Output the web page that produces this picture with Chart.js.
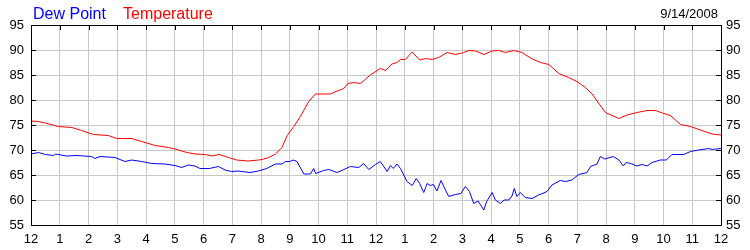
<!DOCTYPE html>
<html>
<head>
<meta charset="utf-8">
<script src="https://cdn.jsdelivr.net/npm/chart.js@4/dist/chart.umd.min.js"></script>
<style>
  html, body { margin: 0; padding: 0; background: #fff; }
</style>
</head>
<body>
<canvas id="weatherChart" width="750" height="250"></canvas>
<script>
// Подписи часов по оси X (0..24)
const hourLabels = ['12', '1', '2', '3', '4', '5', '6', '7', '8', '9', '10', '11',
  '12', '1', '2', '3', '4', '5', '6', '7', '8', '9', '10', '11', '12'];

// Температура: часы и значения
const tempHours = [0, 0.26, 0.5, 0.95, 1.42, 1.76, 2.17, 2.69, 2.98, 3.5, 3.85, 4.32, 4.78, 5.01,
  5.42, 5.71, 6.06, 6.29, 6.54, 6.87, 7.15, 7.56, 7.91, 8.04, 8.27, 8.5, 8.73, 8.91, 9.14, 9.37,
  9.66, 9.89, 10.41, 10.65, 10.88, 11.02, 11.22, 11.46, 11.8, 12.15, 12.33, 12.56, 12.73, 12.85,
  13.02, 13.26, 13.52, 13.72, 13.95, 14.18, 14.47, 14.76, 15.05, 15.22, 15.46, 15.75, 16.04,
  16.27, 16.5, 16.79, 17.08, 17.43, 17.72, 18.01, 18.36, 18.7, 18.99, 19.28, 19.52, 19.69,
  19.98, 20.21, 20.45, 20.73, 21.08, 21.43, 21.72, 22.01, 22.24, 22.59, 22.94, 23.28, 23.69, 24];
const tempValues = [75.8, 75.7, 75.4, 74.7, 74.5, 73.9, 73.1, 72.9, 72.3, 72.3, 71.7, 70.9, 70.5, 70.2,
  69.5, 69.2, 69.1, 68.8, 69.1, 68.5, 68.0, 67.8, 68.0, 68.1, 68.5, 69.2, 70.5, 72.9, 74.7, 76.7,
  79.7, 81.2, 81.2, 81.8, 82.3, 83.3, 83.5, 83.3, 85.0, 86.3, 85.9, 87.2, 87.5, 88.1,
  88.1, 89.6, 88.0, 88.3, 88.1, 88.5, 89.5, 89.1, 89.5, 89.9, 89.8, 89.1, 89.8,
  89.9, 89.5, 89.9, 89.5, 88.2, 87.5, 87.1, 85.3, 84.5, 83.7, 82.5, 81.2, 79.8,
  77.5, 76.9, 76.3, 77.0, 77.5, 77.9, 77.9, 77.3, 76.9, 75.1, 74.7, 74.0, 73.2, 73.0];

// Точка росы: часы и значения
const dewHours = [0, 0.26, 0.5, 0.78, 0.85, 1.24, 1.6, 2.11, 2.22, 2.4, 2.92, 3.27, 3.5, 3.85, 4.2,
  4.66, 5.01, 5.24, 5.47, 5.7, 5.88, 6.2, 6.52, 6.75, 6.98, 7.2, 7.62, 7.91, 8.2, 8.5, 8.73, 8.85,
  9.0, 9.12, 9.25, 9.49, 9.72, 9.83, 9.9, 10.18, 10.36, 10.65, 10.88, 11.11, 11.4, 11.57, 11.75,
  11.98, 12.15, 12.39, 12.5, 12.6, 12.73, 12.85, 13.08, 13.26, 13.4, 13.52, 13.66, 13.78, 13.89,
  14.0, 14.12, 14.26, 14.4, 14.53, 14.76, 14.95, 15.11, 15.25, 15.4, 15.55, 15.75, 15.85, 16.04,
  16.15, 16.33, 16.45, 16.62, 16.73, 16.81, 16.9, 17.02, 17.19, 17.43, 17.66, 17.95, 18.12,
  18.41, 18.6, 18.81, 19.05, 19.34, 19.46, 19.69, 19.8, 19.95, 20.25, 20.45, 20.6, 20.7, 20.86,
  21.08, 21.25, 21.43, 21.6, 21.89, 22.1, 22.29, 22.7, 22.94, 23.22, 23.57, 23.7, 24];
const dewValues = [69.2, 69.5, 69.1, 68.9, 69.2, 68.8, 68.9, 68.7, 68.3, 68.7, 68.5, 67.7, 68.0, 67.7, 67.3,
  67.2, 66.9, 66.5, 67.0, 66.8, 66.3, 66.3, 66.7, 66.0, 65.7, 65.8, 65.5, 65.8, 66.3, 67.2, 67.2, 67.7,
  67.7, 68.0, 67.7, 65.2, 65.2, 66.3, 65.3, 65.9, 66.1, 65.5, 66.1, 66.7, 66.5, 67.3, 66.1,
  67.1, 67.7, 65.7, 66.9, 66.3, 67.2, 66.3, 63.7, 62.9, 64.3, 63.3, 61.5, 63.3, 62.9,
  63.1, 61.8, 63.9, 62.2, 60.7, 61.1, 61.3, 62.7, 61.7, 59.3, 59.8, 58.0, 59.7, 61.5,
  60.0, 59.3, 60.0, 60.0, 60.8, 62.3, 60.7, 61.5, 60.5, 60.3, 61.0, 61.7, 63.0,
  63.9, 63.7, 64.0, 65.1, 65.5, 66.7, 67.2, 68.7, 68.2, 68.7, 68.0, 66.8, 67.5, 67.3,
  66.8, 67.1, 66.8, 67.5, 68.0, 68.0, 69.1, 69.1, 69.7, 70.0, 70.3, 70.1, 70.3];

const dateText = '9/14/2008';

const toPoints = (xs, ys) => xs.map((x, i) => ({ x: x, y: ys[i] }));

// Рамка, внутренние засечки и заголовок
const framePlugin = {
  id: 'frame',
  afterDraw(chart) {
    const { ctx, chartArea: a, scales } = chart;
    ctx.save();
    ctx.strokeStyle = '#000';
    ctx.lineWidth = 1;
    ctx.beginPath();
    scales.y.ticks.forEach(t => {
      const y = Math.round(scales.y.getPixelForValue(t.value)) + 0.5;
      ctx.moveTo(a.left, y); ctx.lineTo(a.left + 5, y);
      ctx.moveTo(a.right, y); ctx.lineTo(a.right - 5, y);
    });
    scales.x.ticks.forEach(t => {
      const x = Math.round(scales.x.getPixelForValue(t.value)) + 0.5;
      ctx.moveTo(x, a.top); ctx.lineTo(x, a.top + 5);
    });
    ctx.stroke();
    ctx.strokeRect(Math.round(a.left) + 0.5, Math.round(a.top) + 0.5,
      Math.round(a.right - a.left), Math.round(a.bottom - a.top));

    ctx.textBaseline = 'alphabetic';
    ctx.font = '16px "Liberation Sans", Arial, sans-serif';
    ctx.textAlign = 'left';
    ctx.fillStyle = '#0000ff';
    ctx.fillText('Dew Point', 33, 19);
    ctx.fillStyle = '#ff0000';
    ctx.fillText('Temperature', 123, 19);
    ctx.font = '13px "Liberation Sans", Arial, sans-serif';
    ctx.fillStyle = '#000';
    ctx.textAlign = 'right';
    ctx.fillText(dateText, 718, 18);
    ctx.restore();
  }
};

const tickFont = { family: '"Liberation Sans", Arial, sans-serif', size: 13 };

new Chart(document.getElementById('weatherChart').getContext('2d'), {
  type: 'line',
  data: {
    datasets: [{
      label: 'Dew Point',
      data: toPoints(dewHours, dewValues),
      borderColor: '#0000ff',
      borderWidth: 1,
      pointRadius: 0,
      tension: 0
    }, {
      label: 'Temperature',
      data: toPoints(tempHours, tempValues),
      borderColor: '#ff0000',
      borderWidth: 1,
      pointRadius: 0,
      tension: 0
    }]
  },
  options: {
    responsive: false,
    animation: false,
    devicePixelRatio: 1,
    layout: { padding: { top: 25, left: 0, right: 0, bottom: 0 } },
    plugins: {
      legend: { display: false },
      tooltip: { enabled: false }
    },
    scales: {
      x: {
        type: 'linear',
        min: 0,
        max: 24,
        afterFit(scale) { scale.height = 25; },
        afterBuildTicks(scale) {
          scale.ticks = hourLabels.map((_, i) => ({ value: i }));
        },
        grid: { color: '#c8c8c8', drawTicks: false },
        border: { display: false },
        ticks: {
          autoSkip: false,
          maxRotation: 0,
          padding: 7,
          color: '#000',
          font: tickFont,
          callback: (v) => hourLabels[v]
        }
      },
      y: {
        position: 'left',
        min: 55,
        max: 95,
        afterFit(scale) { scale.width = 31; },
        grid: { color: '#c8c8c8', drawTicks: false },
        border: { display: false },
        ticks: { stepSize: 5, padding: 7, color: '#000', font: tickFont }
      },
      y2: {
        position: 'right',
        min: 55,
        max: 95,
        afterFit(scale) { scale.width = 29; },
        grid: { drawOnChartArea: false, drawTicks: false },
        border: { display: false },
        ticks: { stepSize: 5, padding: 5, color: '#000', font: tickFont }
      }
    }
  },
  plugins: [framePlugin]
});
</script>
</body>
</html>
